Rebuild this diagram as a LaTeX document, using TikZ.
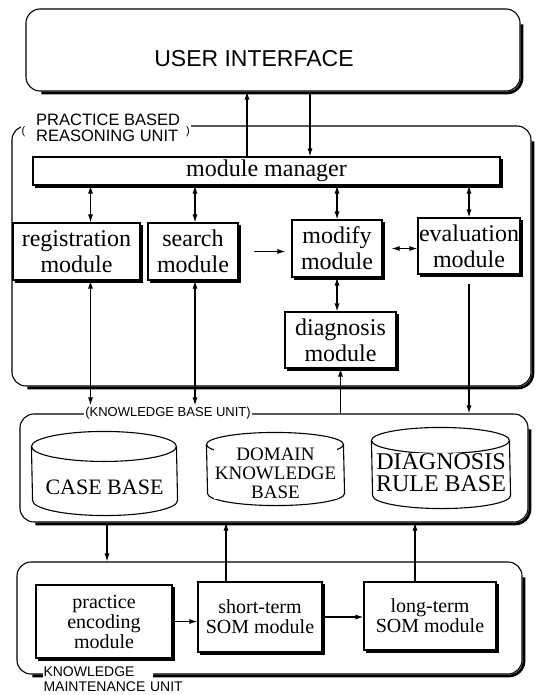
\documentclass[tikz,border=0pt]{standalone}
\usepackage{fontspec}
\setmainfont{Liberation Serif}
\newfontfamily\unitfont{Liberation Sans}
\usetikzlibrary{positioning,arrows.meta}

% outline of a data base drum round node #1: half width #2, cap height #3
\newcommand{\drum}[3]{%
  \draw ([yshift=-#3]#1.north west) arc[start angle=180, end angle=0, x radius=#2, y radius=#3]
    -- ([yshift=#3]#1.south east) arc[start angle=0, end angle=-180, x radius=#2, y radius=#3] -- cycle;
  \draw ([yshift=-#3]#1.north west) arc[start angle=180, end angle=360, x radius=#2, y radius=#3];}

\tikzset{
  module/.style={draw, fill=white, inner sep=1pt, align=center,
    font=\fontsize{24}{26}\selectfont},
  lowmodule/.style={module, font=\fontsize{20}{20}\selectfont},
  unit/.style={draw, fill=white, rounded corners=14pt},
  unitlabel/.style={fill=white, inner sep=1pt, align=left,
    font=\unitfont\fontsize{14}{15}\selectfont},
  kbase/.style={inner sep=0pt},
  kbtext/.style={fill=white, inner sep=0.5pt, align=center},
}

\begin{document}
\begin{tikzpicture}[x=1pt,y=-1pt,>={Latex[length=8pt,width=5pt]},line width=1.1pt]
  \useasboundingbox (0,0) rectangle (536,695);

  % unit frames
  \node[unit, minimum width=494pt, minimum height=82pt, text height=34pt, text depth=0pt,
        font=\unitfont\fontsize{23}{26}\selectfont] (ui) at (273,50) {USER INTERFACE\hspace*{38pt}};
  \node[unit, minimum width=519pt, minimum height=260pt] (pbr) at (271.5,256) {};
  \node[unit, minimum width=508pt, minimum height=108pt] (kb) at (274,468) {};
  \node[unit, minimum width=505pt, minimum height=112pt] (km) at (269.5,618) {};
  \foreach \n in {ui,pbr,kb,km}
    \draw[line width=2.8pt, rounded corners=15pt] ([xshift=16pt,yshift=-1.4pt]\n.south west)
      -- ([xshift=1.4pt,yshift=-1.4pt]\n.south east) -- ([xshift=1.4pt,yshift=-16pt]\n.north east);

  \node[unitlabel, anchor=west, font=\unitfont\fontsize{16.5}{15}\selectfont] (pbrlabel) at (20,130)
    {{\fontsize{11}{11}\selectfont(}\hspace{11pt}\begin{tabular}{@{}l@{}}PRACTICE BASED\\REASONING UNIT\end{tabular}\hspace{6pt}{\fontsize{11}{11}\selectfont)}};
  \node[unitlabel, font=\unitfont\fontsize{13}{13}\selectfont] (kblabel) at (168,413)
    {(KNOWLEDGE BASE UNIT)};
  \node[unitlabel, anchor=north west, text width=108pt] (kmlabel) at (42,665)
    {\mbox{KNOWLEDGE}\\\mbox{MAINTENANCE UNIT}};

  % practice based reasoning unit
  \node[module, minimum width=467pt, minimum height=28pt] (mm) at (266.5,171) {module manager};
  \node[module, minimum width=127pt, minimum height=57pt] (reg) at (76.5,251.5) {registration\\module};
  \node[module, minimum width=90pt, minimum height=57pt] (search) at (193,251.5) {search\\module};
  \node[module, minimum width=90pt, minimum height=57pt] (modify) at (337,248.5) {modify\\module};
  \node[module, minimum width=102pt, minimum height=56pt] (eval) at (469,246) {evaluation\\module};
  \node[module, minimum width=111pt, minimum height=56pt] (diag) at (340.5,340) {diagnosis\\module};

  % knowledge base unit
  \node[kbase, minimum width=145pt, minimum height=83pt] (case) at (104.5,473.5) {};
  \drum{case}{72.5pt}{15pt}
  \node[kbtext, font=\fontsize{22}{22}\selectfont] (casetext) at ([yshift=-14pt]case.center) {CASE BASE};
  \node[kbase, minimum width=137pt, minimum height=72pt] (domain) at (275.5,469) {};
  \drum{domain}{68.5pt}{12pt}
  \node[kbtext, font=\fontsize{19}{19}\selectfont] (domaintext) at ([yshift=-4pt]domain.center) {DOMAIN\\KNOWLEDGE\\BASE};
  \node[kbase, minimum width=138pt, minimum height=80pt] (rules) at (441,468) {};
  \drum{rules}{69pt}{13pt}
  \node[kbtext, font=\fontsize{24}{22}\selectfont] (rulestext) at ([yshift=-5pt]rules.center) {DIAGNOSIS\\RULE BASE};

  % knowledge maintenance unit
  \node[lowmodule, minimum width=136pt, minimum height=73pt] (encode) at (104,621.5) {practice\\encoding\\module};
  \node[lowmodule, minimum width=124pt, minimum height=70pt] (short) at (260,617) {short-term\\SOM module};
  \node[lowmodule, minimum width=132pt, minimum height=68pt] (long) at (430,616) {long-term\\SOM module};

  \foreach \n in {mm,reg,search,modify,eval,diag,encode,short,long}
    \draw[line width=2.6pt] ([xshift=2.6pt,yshift=-1.3pt]\n.south west)
      -- ([xshift=1.3pt,yshift=-1.3pt]\n.south east) -- ([xshift=1.3pt,yshift=-2.6pt]\n.north east);

  \path[->]
    ([xshift=-19.5pt]mm.north) edge ([xshift=-19.5pt]mm.north |- ui.south)
    ([xshift=43.5pt]mm.north |- ui.south) edge ([xshift=43.5pt]mm.north);
  \path[<->]
    ([xshift=14pt]reg.north) edge ([xshift=14pt]reg.north |- mm.south)
    ([xshift=2pt]search.north) edge ([xshift=2pt]search.north |- mm.south)
    (modify.north) edge (modify.north |- mm.south)
    (eval.north) edge (eval.north |- mm.south)
    (modify.east) edge[shorten <=9pt] (modify.east -| eval.west)
    (modify.south) edge (modify.south |- diag.north)
    ([xshift=14pt]reg.south) edge ([xshift=14pt]reg.south |- kblabel.north)
    ([xshift=2pt]search.south) edge ([xshift=2pt]search.south |- kblabel.north);
  \path[->]
    (search.east) edge[shorten <=15pt, shorten >=6pt] (search.east -| modify.west)
    (diag.south |- kb.north) edge (diag.south)
    (eval.south) edge[shorten <=9pt] (eval.south |- kb.north)
    ([xshift=3pt]encode.north |- kb.south) edge ([xshift=3pt]encode.north |- km.north)
    ([xshift=-34pt]short.north) edge ([xshift=-34pt]short.north |- kb.south)
    ([xshift=-15pt]long.north) edge ([xshift=-15pt]long.north |- kb.south)
    (encode.east) edge (encode.east -| short.west)
    (short.east) edge (short.east -| long.west);
\end{tikzpicture}
\end{document}
